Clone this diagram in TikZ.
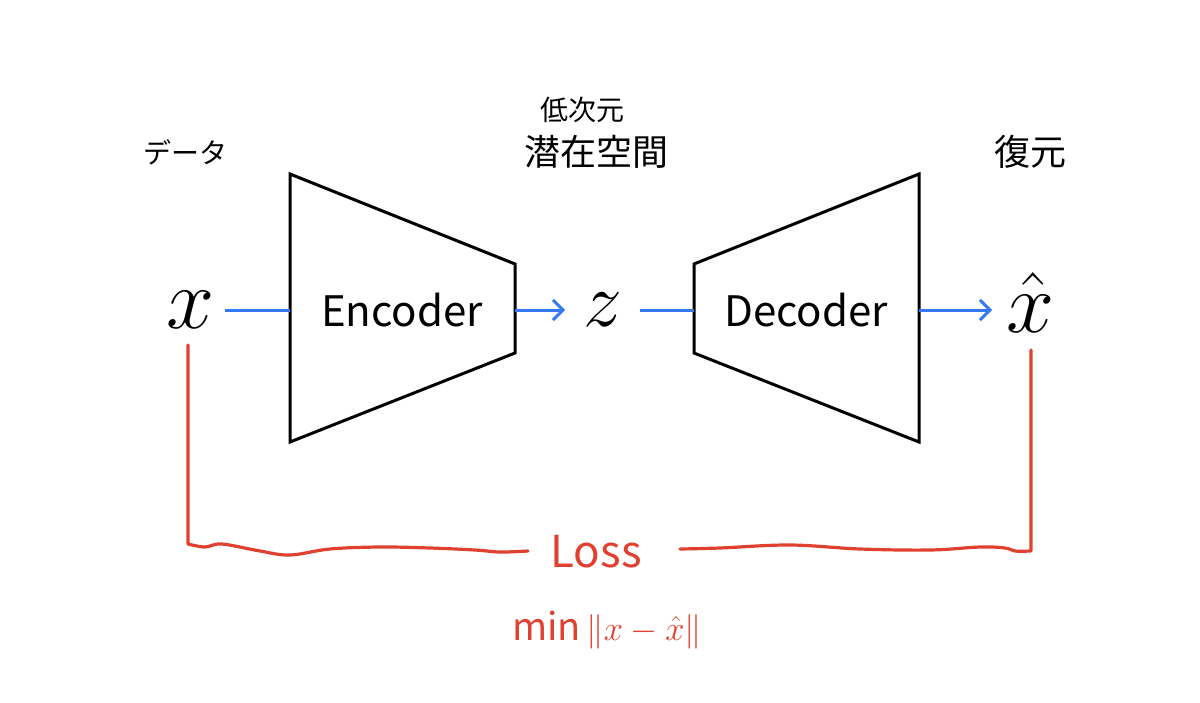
\documentclass[tikz,border=0pt]{standalone}
\usepackage{fontspec}
\setmainfont{Noto Sans CJK JP}
\usetikzlibrary{arrows.meta}
\definecolor{flowblue}{HTML}{3478F6}
\definecolor{lossred}{HTML}{E0402F}
\begin{document}
\begin{tikzpicture}[x=0.5pt,y=-0.5pt,
  box/.style={draw=black,line width=1.5pt,line join=miter},
  flow/.style={draw=flowblue,line width=1.5pt},
  flowarrow/.style={flow,-{Straight Barb[length=5pt,width=10pt,line width=1.5pt]}},
  lossline/.style={draw=lossred,line width=1.6pt,line cap=round,line join=round},
  jp/.style={inner sep=0pt,font=\fontsize{18}{20}\selectfont},
  var/.style={inner sep=0pt,scale=2.5,font=\LARGE},
  word/.style={inner sep=0pt,font=\fontsize{21}{23}\selectfont}]
\useasboundingbox (0,0) rectangle (1200,702);
% encoder trapezoid
\coordinate (etl) at (290,174);
\coordinate (ebl) at (290,442);
\coordinate (etr) at (515,264);
\coordinate (ebr) at (515,353);
\draw[box] (etl) -- (etr) -- (ebr) -- (ebl) -- cycle;
\coordinate (ein) at (290,310);
\coordinate (eout) at (515,310);
\node[word] (enc) at (402,310) {Encoder};
% decoder trapezoid
\coordinate (dtl) at (694,264);
\coordinate (dbl) at (694,353);
\coordinate (dtr) at (919,174);
\coordinate (dbr) at (919,442);
\draw[box] (dtl) -- (dtr) -- (dbr) -- (dbl) -- cycle;
\coordinate (din) at (694,310);
\coordinate (dout) at (919,310);
\node[word] (dec) at (806,310) {Decoder};
% variables
\node[var] (x) at (191,310) {$x$};
\node[var,scale=0.9] (z) at (603,310) {$z$};
\node[var] (xh) at (1031,302) {$\hat{x}$};
% labels
\node[jp,font=\fontsize{14}{16}\selectfont] (data) at (185,152) {データ};
\node[jp,font=\fontsize{14}{16}\selectfont] (low) at (582,110) {低次元};
\node[jp] (latent) at (596,152) {潜在空間};
\node[jp] (recon) at (1030,152) {復元};
% flow
\draw[flow] (225,310) -- (ein);
\draw[flowarrow] (eout) -- (565,310);
\draw[flow] (640,310) -- (din);
\draw[flowarrow] (dout) -- (992,310);
% loss
\node[inner sep=0pt,text=lossred,font=\fontsize{22}{24}\selectfont] (loss) at (596,552) {Loss};
\node[inner sep=0pt,text=lossred,font=\fontsize{19}{21}\selectfont] (obj) at (607,630) {min$\,\| x-\hat{x}\|$};
\coordinate (lstart) at (188,345);
\coordinate (rstart) at (1031,350);
\draw[lossline] (lstart) -- (188,544) plot[smooth,tension=0.6] coordinates {(188,544) (205,547) (222,544) (260,551) (290,555) (330,549) (380,547) (430,548) (475,550) (500,552) (528,551)};
\draw[lossline] plot[smooth,tension=0.6] coordinates {(680,549) (720,548) (790,545) (860,549) (930,550) (980,547) (1005,548) (1015,551) (1031,551)} -- (rstart);
\end{tikzpicture}
\end{document}
